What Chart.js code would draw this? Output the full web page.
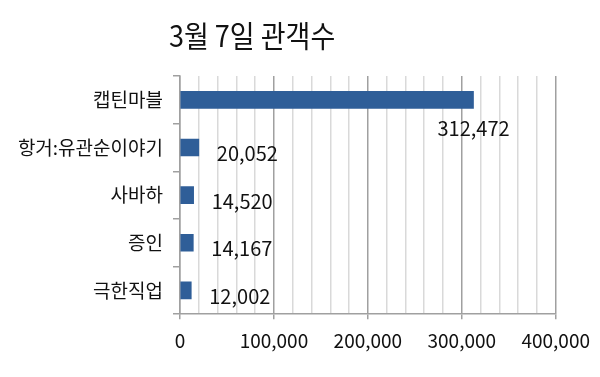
<!DOCTYPE html>
<html>
<head>
<meta charset="utf-8">
<script src="https://cdn.jsdelivr.net/npm/chart.js@4.4.0/dist/chart.umd.min.js"></script>
<style>
  html, body { margin: 0; padding: 0; background: #fff; }
  #wrap { position: relative; width: 600px; height: 377px; }
  #title {
    position: absolute; left: 169px; top: 19px;
    font: 27px "Noto Sans CJK KR", sans-serif; line-height: 1;
    color: #111; white-space: nowrap;
    transform: scaleY(1.1); transform-origin: 0 0;
  }
</style>
</head>
<body>
<div id="wrap">
  <div id="title">3월 7일 관객수</div>
  <canvas id="chart" width="600" height="377"></canvas>
</div>
<script>
const movies = ['캡틴마블', '항거:유관순이야기', '사바하', '증인', '극한직업'];
const audience = [312472, 20052, 14520, 14167, 12002];
const xTicks = [0, 100000, 200000, 300000, 400000];

const FONT = '"Noto Sans CJK KR", sans-serif';

// value labels: long bars get the number under the bar end, short ones to the right
const valueLabels = {
  id: 'valueLabels',
  afterDatasetsDraw(chart) {
    const ctx = chart.ctx;
    const meta = chart.getDatasetMeta(0);
    const xs = chart.scales.x;
    ctx.save();
    ctx.font = '20px ' + FONT;
    ctx.fillStyle = '#111';
    ctx.textBaseline = 'middle';
    meta.data.forEach((bar, i) => {
      const v = audience[i];
      const text = v.toLocaleString('en-US');
      if (v > xs.max * 0.5) {
        ctx.textAlign = 'center';
        ctx.fillText(text, bar.x, bar.y + 29);
      } else {
        ctx.textAlign = 'left';
        ctx.fillText(text, bar.x + 18, bar.y + 6);
      }
    });
    ctx.restore();
  }
};

new Chart(document.getElementById('chart').getContext('2d'), {
  type: 'bar',
  data: {
    labels: movies,
    datasets: [{
      data: audience,
      backgroundColor: '#2F5E98',
      barThickness: 17
    }]
  },
  options: {
    indexAxis: 'y',
    responsive: false,
    animation: false,
    layout: { padding: { top: 76, right: 43, bottom: 15, left: 0 } },
    plugins: {
      legend: { display: false },
      tooltip: { enabled: false }
    },
    scales: {
      x: {
        min: xTicks[0],
        max: xTicks[xTicks.length - 1],
        ticks: {
          stepSize: 20000,
          autoSkip: false,
          maxRotation: 0,
          padding: 10,
          color: '#111',
          font: { family: FONT, size: 19 },
          callback: v => xTicks.includes(v) ? v.toLocaleString('en-US') : ''
        },
        grid: {
          color: c => xTicks.includes(c.tick.value) ? '#a0a0a0' : '#d9d9d9',
          tickColor: c => xTicks.includes(c.tick.value) ? '#a0a0a0' : 'rgba(0,0,0,0)',
          tickLength: 5,
          lineWidth: 1.5
        },
        border: { color: '#a0a0a0', width: 1.5 }
      },
      y: {
        afterFit: s => { s.width = 180; },
        ticks: {
          padding: 10,
          color: '#111',
          font: { family: FONT, size: 19 }
        },
        grid: {
          offset: true,
          drawOnChartArea: false,
          tickLength: 7,
          tickColor: '#a0a0a0',
          lineWidth: 1.5
        },
        border: { color: '#a0a0a0', width: 1.5 }
      }
    }
  },
  plugins: [valueLabels]
});
</script>
</body>
</html>
